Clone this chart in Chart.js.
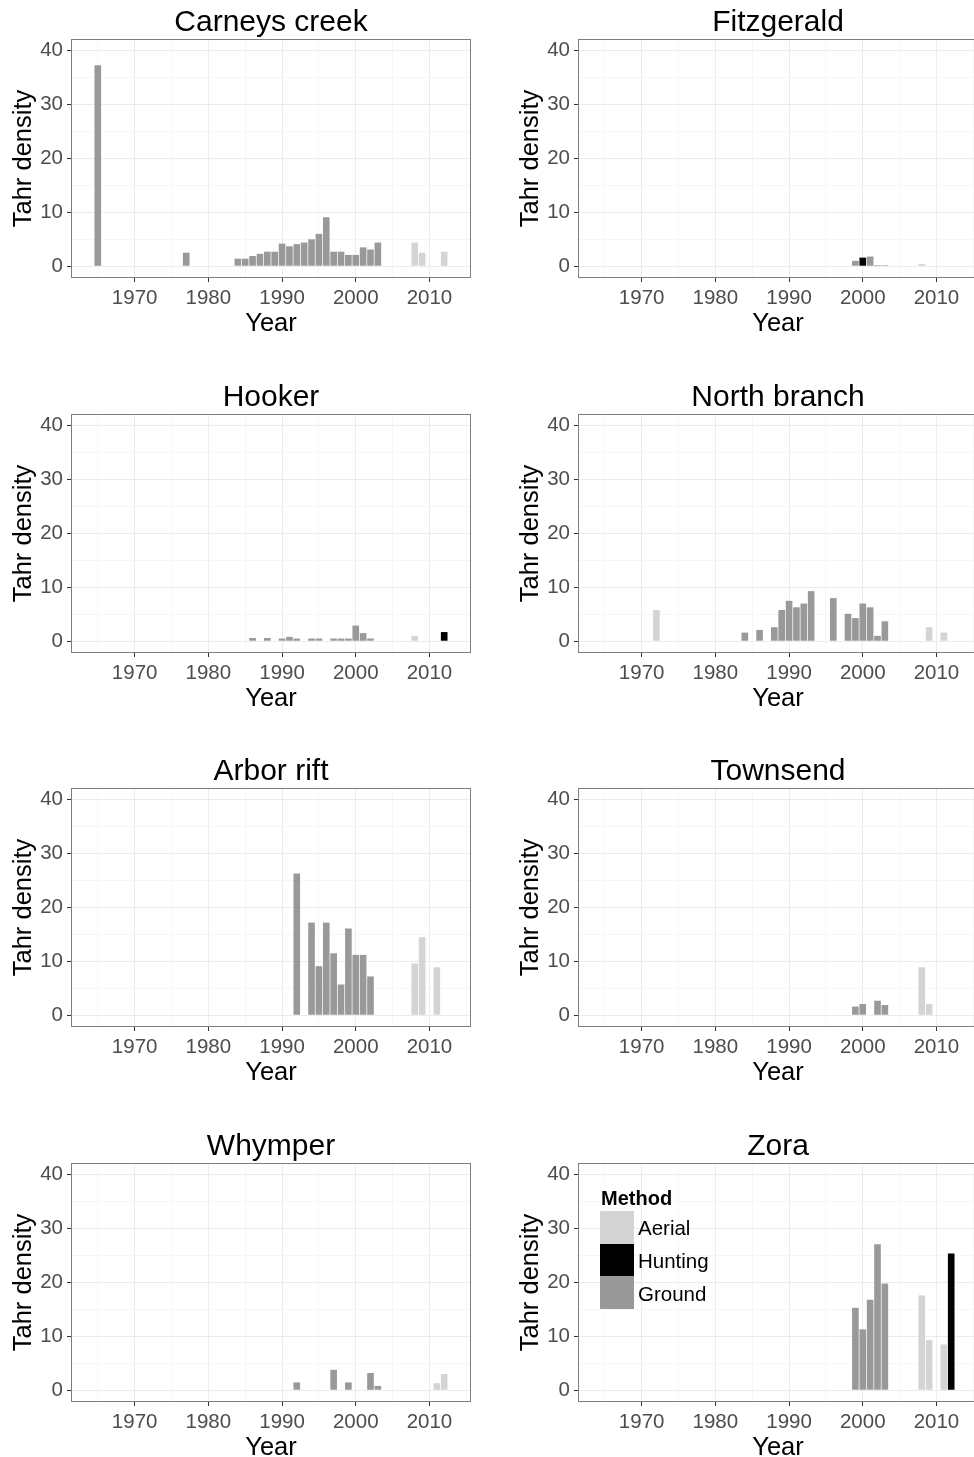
<!DOCTYPE html>
<html>
<head>
<meta charset="utf-8">
<script src="https://cdn.jsdelivr.net/npm/chart.js@4/dist/chart.umd.min.js"></script>
<style>
    body { margin: 0; background: #fff; }
    #wrap { position: relative; width: 974px; height: 1457px; overflow: hidden; }
    #wrap canvas { position: absolute; }
    .legend { position: absolute; left: 600px; top: 1185px; font-family: "Liberation Sans", Arial, sans-serif; color: #000; }
    .legend__title { font-weight: bold; font-size: 20px; line-height: 26px; margin-left: 1px; }
    .legend__row { display: flex; align-items: center; height: 32.7px; }
    .legend__key { width: 34px; height: 100%; margin-right: 4px; }
    .legend__label { font-size: 20.5px; position: relative; top: 1px; }
</style>
</head>
<body>
<div id="wrap"></div>
<script>
// year categories on the x axis (1962..2015), only decades are labelled
const yearLabels = [];
for (let y = 1962; y <= 2015; y++) yearLabels.push(String(y));
const yTicks = [0, 5, 10, 15, 20, 25, 30, 35, 40];

const methods = ['Aerial', 'Hunting', 'Ground'];
const methodColors = ['#d4d4d4', '#000000', '#999999'];

// [year, tahr density]
const carneysAerial = [[2008, 4.4], [2009, 2.5], [2012, 2.7]];
const carneysHunting = [];
const carneysGround = [[1965, 37.3], [1977, 2.5], [1984, 1.4], [1985, 1.4], [1986, 1.9], [1987, 2.3],
    [1988, 2.7], [1989, 2.7], [1990, 4.2], [1991, 3.7], [1992, 4.1], [1993, 4.4], [1994, 5.0],
    [1995, 6.0], [1996, 9.1], [1997, 2.7], [1998, 2.7], [1999, 2.1], [2000, 2.1], [2001, 3.5],
    [2002, 3.1], [2003, 4.4]];

const fitzAerial = [[2008, 0.4]];
const fitzHunting = [[2000, 1.6]];
const fitzGround = [[1999, 1.0], [2001, 1.8], [2002, 0.2], [2003, 0.2]];

const hookerAerial = [[2008, 1.0]];
const hookerHunting = [[2012, 1.7]];
const hookerGround = [[1986, 0.6], [1988, 0.6], [1990, 0.5], [1991, 0.8], [1992, 0.5], [1994, 0.5],
    [1995, 0.5], [1997, 0.5], [1998, 0.5], [1999, 0.5], [2000, 2.9], [2001, 1.5], [2002, 0.5]];

const northAerial = [[1972, 5.8], [2009, 2.6], [2011, 1.6]];
const northHunting = [];
const northGround = [[1984, 1.6], [1986, 2.1], [1988, 2.6], [1989, 5.8], [1990, 7.5], [1991, 6.3],
    [1992, 7.0], [1993, 9.3], [1996, 8.0], [1998, 5.1], [1999, 4.3], [2000, 7.0], [2001, 6.3],
    [2002, 1.0], [2003, 3.7]];

const arborAerial = [[2008, 9.6], [2009, 14.5], [2011, 8.9]];
const arborHunting = [];
const arborGround = [[1992, 26.3], [1994, 17.2], [1995, 9.1], [1996, 17.2], [1997, 11.5], [1998, 5.7],
    [1999, 16.1], [2000, 11.2], [2001, 11.2], [2002, 7.2]];

const townsendAerial = [[2008, 8.9], [2009, 2.1]];
const townsendHunting = [];
const townsendGround = [[1999, 1.6], [2000, 2.1], [2002, 2.7], [2003, 1.9]];

const whymperAerial = [[2011, 1.3], [2012, 3.0]];
const whymperHunting = [];
const whymperGround = [[1992, 1.45], [1997, 3.8], [1999, 1.45], [2002, 3.2], [2003, 0.8]];

const zoraAerial = [[2008, 17.6], [2009, 9.3], [2011, 8.5]];
const zoraHunting = [[2012, 25.4]];
const zoraGround = [[1999, 15.3], [2000, 11.3], [2001, 16.8], [2002, 27.1], [2003, 19.8]];

const FONT = '"Liberation Sans", Arial, sans-serif';

const framePlugin = {
    id: 'frame',
    afterDraw(chart) {
        const {ctx, chartArea: a} = chart;
        ctx.save();
        ctx.strokeStyle = '#7f7f7f';
        ctx.lineWidth = 1;
        ctx.strokeRect(a.left - 0.5, a.top - 0.5, a.right - a.left + 1, a.bottom - a.top + 1);
        ctx.restore();
    }
};

function gridColor(v) {
    if (v % 10 === 0) return '#ececec';
    if (v % 5 === 0) return '#f6f6f6';
    return 'rgba(0,0,0,0)';
}

function makePanel(title, series, left, top) {
    const canvas = document.createElement('canvas');
    canvas.width = 487;
    canvas.height = 374;
    canvas.style.left = left + 'px';
    canvas.style.top = top + 'px';
    document.getElementById('wrap').appendChild(canvas);

    const datasets = series.map((points, i) => ({
        label: methods[i],
        data: points.map(([yr, v]) => ({x: String(yr), y: v})),
        backgroundColor: methodColors[i],
        borderWidth: 0,
        grouped: false,
        categoryPercentage: 1,
        barPercentage: 0.9,
    }));

    new Chart(canvas, {
        type: 'bar',
        data: {labels: yearLabels, datasets: datasets},
        plugins: [framePlugin],
        options: {
            responsive: false,
            animation: false,
            devicePixelRatio: 1,
            layout: {padding: {left: 0, right: 17, top: 0, bottom: 35}},
            plugins: {
                legend: {display: false},
                tooltip: {enabled: false},
                title: {
                    display: true,
                    fullSize: false,
                    text: title,
                    color: '#000',
                    font: {family: FONT, size: 30, weight: 'normal', lineHeight: 1},
                    padding: {top: 8, bottom: 2}
                }
            },
            scales: {
                x: {
                    type: 'category',
                    offset: true,
                    afterFit: (s) => { s.height = 62; },
                    grid: {
                        offset: false,
                        color: (c) => gridColor(Number(yearLabels[c.index])),
                        tickColor: (c) => Number(yearLabels[c.index]) % 10 === 0 ? '#333' : 'rgba(0,0,0,0)',
                        tickLength: 5,
                    },
                    border: {display: false},
                    ticks: {
                        autoSkip: false,
                        maxRotation: 0,
                        padding: 4,
                        color: '#4d4d4d',
                        font: {family: FONT, size: 20.5},
                        callback: function (value) {
                            const lab = this.getLabelForValue(value);
                            return Number(lab) % 10 === 0 ? lab : '';
                        }
                    },
                    title: {
                        display: true,
                        text: 'Year',
                        color: '#000',
                        font: {family: FONT, size: 25.5},
                        padding: {top: 0, bottom: 0}
                    }
                },
                y: {
                    min: -2,
                    max: 42,
                    afterFit: (s) => { s.width = 72; },
                    afterBuildTicks: (s) => { s.ticks = yTicks.map((v) => ({value: v})); },
                    grid: {
                        color: (c) => gridColor(c.tick ? c.tick.value : 1),
                        tickColor: (c) => c.tick && c.tick.value % 10 === 0 ? '#333' : 'rgba(0,0,0,0)',
                        tickLength: 5,
                    },
                    border: {display: false},
                    ticks: {
                        padding: 4,
                        color: '#4d4d4d',
                        font: {family: FONT, size: 20.5},
                        callback: (v) => v % 10 === 0 ? String(v) : ''
                    },
                    title: {
                        display: true,
                        text: 'Tahr density',
                        color: '#000',
                        font: {family: FONT, size: 25.5},
                        padding: {top: 8.5, bottom: 0}
                    }
                }
            }
        }
    });
}

const rowTops = [0, 375, 749, 1124];
makePanel('Carneys creek', [carneysAerial, carneysHunting, carneysGround], 0, rowTops[0]);
makePanel('Fitzgerald', [fitzAerial, fitzHunting, fitzGround], 507, rowTops[0]);
makePanel('Hooker', [hookerAerial, hookerHunting, hookerGround], 0, rowTops[1]);
makePanel('North branch', [northAerial, northHunting, northGround], 507, rowTops[1]);
makePanel('Arbor rift', [arborAerial, arborHunting, arborGround], 0, rowTops[2]);
makePanel('Townsend', [townsendAerial, townsendHunting, townsendGround], 507, rowTops[2]);
makePanel('Whymper', [whymperAerial, whymperHunting, whymperGround], 0, rowTops[3]);
makePanel('Zora', [zoraAerial, zoraHunting, zoraGround], 507, rowTops[3]);

// legend inside the Zora panel
const legend = document.createElement('div');
legend.className = 'legend';
legend.innerHTML = '<div class="legend__title">Method</div>' + methods.map((m, i) => `
    <div class="legend__row">
        <div class="legend__key" style="background:${methodColors[i]}"></div>
        <div class="legend__label">${m}</div>
    </div>`).join('');
document.getElementById('wrap').appendChild(legend);
</script>
</body>
</html>
